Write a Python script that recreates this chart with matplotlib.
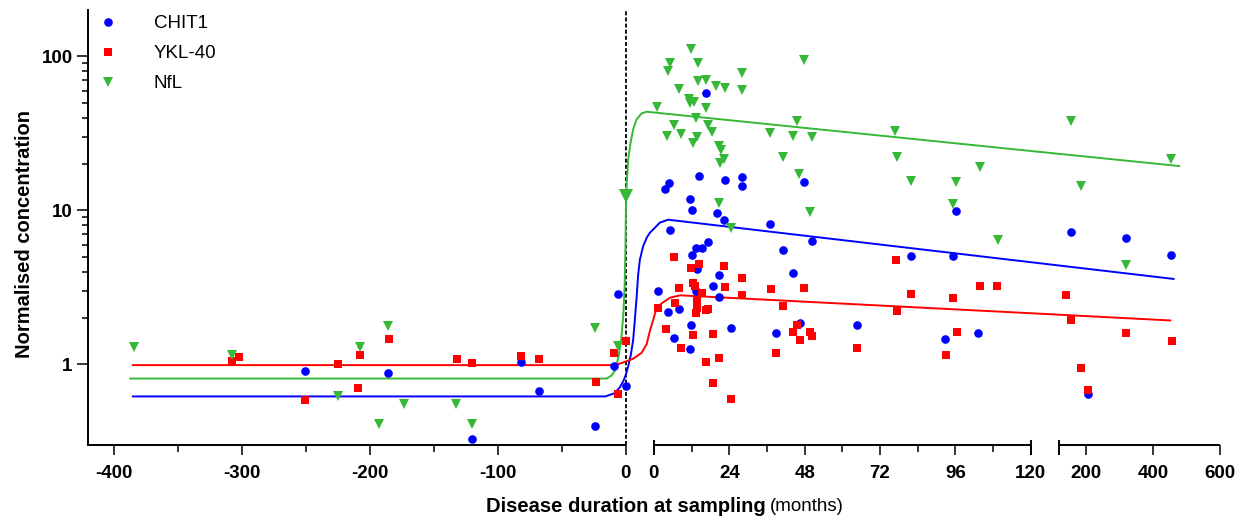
import numpy as np
import matplotlib
matplotlib.use("Agg")
import matplotlib.pyplot as plt
from matplotlib.ticker import FixedLocator, NullFormatter

plt.rcParams["font.family"] = ["Liberation Sans", "DejaVu Sans"]

BLUE, RED, GREEN = "#0000ff", "#ff0000", "#35b835"

# ── data (months from onset, normalised concentration) ─────────────────────
chit1_x = [-250.8, -185.5, -120.1, -81.6, -67.6, -24.0, -9.5, -6.1, 0,
           1.2, 3.6, 4.8, 5.1, 4.4, 6.4, 8.0, 11.4, 11.5, 11.8,
           12.2, 12.2, 13.4, 13.4, 13.8, 14.2, 15.3, 16.7, 17.2, 18.9,
           20.0, 20.6, 20.8, 22.2, 22.5, 24.5, 27.9, 27.9, 37.0, 38.8,
           41.1, 44.2, 46.4, 47.9, 50.3, 64.6, 81.8, 92.8, 95.1, 96.3,
           103.3, 154.6, 206.5, 318.6, 454.8]
chit1_y = [0.90, 0.88, 0.33, 1.03, 0.67, 0.40, 0.98, 2.88, 0.72,
           2.99, 13.7, 15.1, 7.47, 2.19, 1.48, 2.30, 1.26, 11.8, 1.79,
           10.1, 5.13, 5.67, 2.99, 4.14, 16.6, 5.67, 57.5, 6.26, 3.22,
           9.56, 3.82, 2.72, 8.68, 15.7, 1.72, 16.4, 14.4, 8.17, 1.61,
           5.50, 3.93, 1.85, 15.2, 6.34, 1.81, 5.08, 1.47, 5.08, 9.89,
           1.60, 7.24, 0.645, 6.59, 5.10]

ykl40_x = [-307.8, -302.2, -250.8, -224.8, -209.2, -207.8, -185.2, -132.1,
           -120.1, -81.6, -67.6, -23.5, -9.5, -6.1, 0,
           1.2, 3.7, 6.3, 6.6, 8.0, 8.6, 11.8, 14.2, 12.4, 13.1,
           15.4, 13.6, 13.8, 13.4, 16.5, 17.3, 12.4, 18.7, 20.6, 16.6,
           18.9, 24.6, 22.4, 22.6, 27.9, 27.9, 37.2, 41.2, 38.9, 44.2,
           45.5, 47.9, 46.5, 49.6, 50.4, 64.6, 77.0, 77.4, 81.9, 95.2,
           96.4, 92.9, 103.8, 109.3, 139.7, 155.5, 185.6, 207.7, 319.8, 455.7]
ykl40_y = [1.06, 1.12, 0.59, 1.00, 0.70, 1.16, 1.46, 1.08,
           1.02, 1.14, 1.09, 0.77, 1.19, 0.64, 1.41,
           2.33, 1.69, 5.00, 2.52, 3.15, 1.28, 4.25, 4.46, 3.36, 3.23,
           2.89, 2.58, 2.33, 2.17, 2.27, 2.30, 1.55, 1.57, 1.10, 1.03,
           0.753, 0.600, 4.36, 3.20, 3.63, 2.81, 3.07, 2.40, 1.19, 1.63,
           1.79, 3.14, 1.44, 1.62, 1.54, 1.27, 4.75, 2.23, 2.85, 2.71,
           1.62, 1.15, 3.21, 3.21, 2.82, 1.95, 0.945, 0.685, 1.59, 1.43]

nfl_x = [-384.0, -307.8, -224.8, -207.8, -192.4, -185.5, -173.2, -132.4,
         -120.1, -24.0, -6.1,
         1.0, 4.6, 5.1, 6.3, 4.3, 7.9, 8.5, 11.1, 12.7, 11.5,
         11.8, 12.3, 13.4, 13.6, 13.9, 14.0, 16.6, 16.6, 17.3, 18.6,
         19.9, 20.6, 20.7, 21.2, 21.0, 22.3, 22.6, 24.5, 27.9, 27.9,
         37.0, 41.0, 44.2, 45.4, 46.2, 47.9, 50.3, 49.6, 76.9, 77.4,
         81.8, 95.2, 96.3, 103.7, 109.4, 154.6, 184.7, 318.6, 454.8]
nfl_y = [1.30, 1.15, 0.62, 1.30, 0.41, 1.78, 0.55, 0.55,
         0.41, 1.73, 1.32,
         47.0, 79.9, 90.7, 36.0, 30.5, 61.1, 31.2, 52.6, 50.3, 49.5,
         112, 27.2, 40.0, 30.1, 68.8, 90.1, 70.6, 46.2, 36.0, 32.3,
         64.5, 26.2, 11.1, 24.5, 20.4, 21.6, 62.3, 7.64, 78.4, 60.1,
         31.6, 22.3, 30.2, 38.1, 17.1, 95.0, 29.8, 9.70, 32.8, 22.3,
         15.5, 11.0, 15.3, 19.0, 6.39, 38.1, 14.5, 4.41, 21.7]

# onset marker on the NfL curve
nfl_onset_x = [0]
nfl_onset_y = [12.4]

# fitted curves (values just above 0 sit in the axis break)
chit1_fit_x = [-385, -16, -9, -4.7, -2, 0, 0.00082, 0.00179, 0.00261, 0.00321,
               0.00382, 0.00439, 0.005, 0.00618, 0.0075, 0.00857, 0.01,
               1.9, 4.55, 120, 461.7]
chit1_fit_y = [0.62, 0.62, 0.65, 0.71, 0.78, 0.86, 0.97, 1.16, 1.45, 1.96,
               2.72, 3.84, 4.8, 5.87, 6.68, 7.16, 7.6,
               8.33, 8.7, 4.61, 3.59]

ykl40_fit_x = [-385, -12, -5, 0, 0.00261, 0.00561, 0.00739, 0.00857, 0.01,
               0.86, 2.45, 5.1, 8.3, 120, 451.8]
ykl40_fit_y = [0.99, 0.99, 1.01, 1.045, 1.09, 1.19, 1.35, 1.65, 2.02,
               2.33, 2.49, 2.71, 2.81, 2.15, 1.93]

nfl_fit_x = [-387, -15, -11, -8, -5.5, -3.5, -2, -1, -0.3, 0, 0.00025, 0.00082,
             0.00168, 0.00261, 0.00382, 0.00561, 0.00739, 0.01, 120, 478.7]
nfl_fit_y = [0.81, 0.81, 0.85, 0.93, 1.15, 1.5, 2.1, 3.2, 6.0, 10.0, 14.4, 21.5,
             27.5, 33.6, 39.0, 42.6, 43.7, 43.2, 24.3, 19.4]

x_major = [-400, -300, -200, -100, 0, 0.01, 24, 48, 72, 96, 120, 200, 400, 600]
x_labels = ["-400", "-300", "-200", "-100", "0", "0", "24", "48", "72", "96",
            "120", "200", "400", "600"]
x_minor = [-350, -250, -150, -50, 12, 36, 60, 84, 108]


# ── broken x axis: three linear pieces, units roughly in pixels ────────────
S_PRE, S_POST, S_LATE = 1.28, 3.14, 0.3354
GAP = 28.0          # width of each break
G = 0.01            # months swallowed by the break after onset
U_LATE = GAP + S_POST * 120 + GAP


def fwd(x):
    x = np.asarray(x, dtype=float)
    return np.where(x <= 0, S_PRE * x,
           np.where(x < G, GAP * x / G,
           np.where(x <= 120, GAP + S_POST * x, U_LATE + S_LATE * (x - 120))))


def inv(u):
    u = np.asarray(u, dtype=float)
    return np.where(u <= 0, u / S_PRE,
           np.where(u < GAP, u * G / GAP,
           np.where(u <= GAP + S_POST * 120, (u - GAP) / S_POST,
           np.where(u < U_LATE, 120.0, 120 + (u - U_LATE) / S_LATE))))


fig = plt.figure(figsize=(12.45, 5.19), dpi=100)
ax = fig.add_axes([0.0707, 0.1426, 0.9092, 0.8382])
ax.set_xscale("function", functions=(fwd, inv))
ax.set_yscale("log")
ax.set_xlim(-420, 600)
ax.set_ylim(0.3, 200)

ax.axvline(0, color="k", lw=1.3, ls=(0, (2.2, 1.2)), zorder=1)

ax.plot(chit1_fit_x, chit1_fit_y, color=BLUE, lw=1.4, zorder=2)
ax.plot(ykl40_fit_x, ykl40_fit_y, color=RED, lw=1.4, zorder=2)
ax.plot(nfl_fit_x, nfl_fit_y, color=GREEN, lw=1.4, zorder=2)

ax.plot(chit1_x, chit1_y, ls="none", marker="o", ms=6.2, mew=0, color=BLUE,
        label="CHIT1", zorder=3)
ax.plot(ykl40_x, ykl40_y, ls="none", marker="s", ms=6.0, mew=0, color=RED,
        label="YKL-40", zorder=3)
ax.plot(nfl_x, nfl_y, ls="none", marker="v", ms=6.8, mew=0, color=GREEN,
        label="NfL", zorder=3)
ax.plot(nfl_onset_x, nfl_onset_y, ls="none", marker="v", ms=9.5, mew=0,
        color=GREEN, zorder=3)

# ── axes decoration ────────────────────────────────────────────────────────
for s in ("top", "right", "bottom"):
    ax.spines[s].set_visible(False)
ax.spines["left"].set_linewidth(1.4)

trans = ax.get_xaxis_transform()
for x0, x1 in [(-420, 0), (G, 120), (120.001, 600)]:
    ax.plot([x0, x1], [0, 0], transform=trans, clip_on=False, color="k",
            lw=1.4, solid_capstyle="butt")
for xc in (G, 120, 120.001):
    ax.plot([xc, xc], [-0.023, 0.012], transform=trans, clip_on=False,
            color="k", lw=1.4, solid_capstyle="butt")

ax.set_xticks(x_major)
ax.set_xticklabels(x_labels)
ax.xaxis.set_minor_locator(FixedLocator(x_minor))
ax.xaxis.set_minor_formatter(NullFormatter())

ax.set_yticks([1, 10, 100])
ax.set_yticklabels(["1", "10", "100"])
ax.yaxis.set_minor_locator(FixedLocator([2, 3, 4, 5, 6, 7, 8, 9,
                                         20, 30, 40, 50, 60, 70, 80, 90]))
ax.yaxis.set_minor_formatter(NullFormatter())

ax.tick_params(axis="x", which="major", length=7.2, width=1.1, pad=7)
ax.tick_params(axis="x", which="minor", length=5, width=1.1)
ax.tick_params(axis="y", which="major", length=8, width=1.1, pad=3)
ax.tick_params(axis="y", which="minor", length=4.3, width=1.1)
for lab in ax.get_xticklabels() + ax.get_yticklabels():
    lab.set_fontsize(13.5)
    lab.set_fontweight("bold")

fig.text(0.020, 0.55, "Normalised concentration", rotation=90, fontsize=14.5,
         fontweight="bold", ha="center", va="center")
fig.text(0.6153, 0.025, "Disease duration at sampling", fontsize=14.5,
         fontweight="bold", ha="right", va="center")
fig.text(0.6185, 0.025, "(months)", fontsize=13.5, ha="left", va="center")

ax.legend(loc="upper left", bbox_to_anchor=(0.010, 0.988), frameon=False,
          fontsize=13.5, handlelength=0.95, handletextpad=1.95,
          labelspacing=0.69, borderpad=0, borderaxespad=0, numpoints=1)

fig.savefig("out.png", dpi=100)
